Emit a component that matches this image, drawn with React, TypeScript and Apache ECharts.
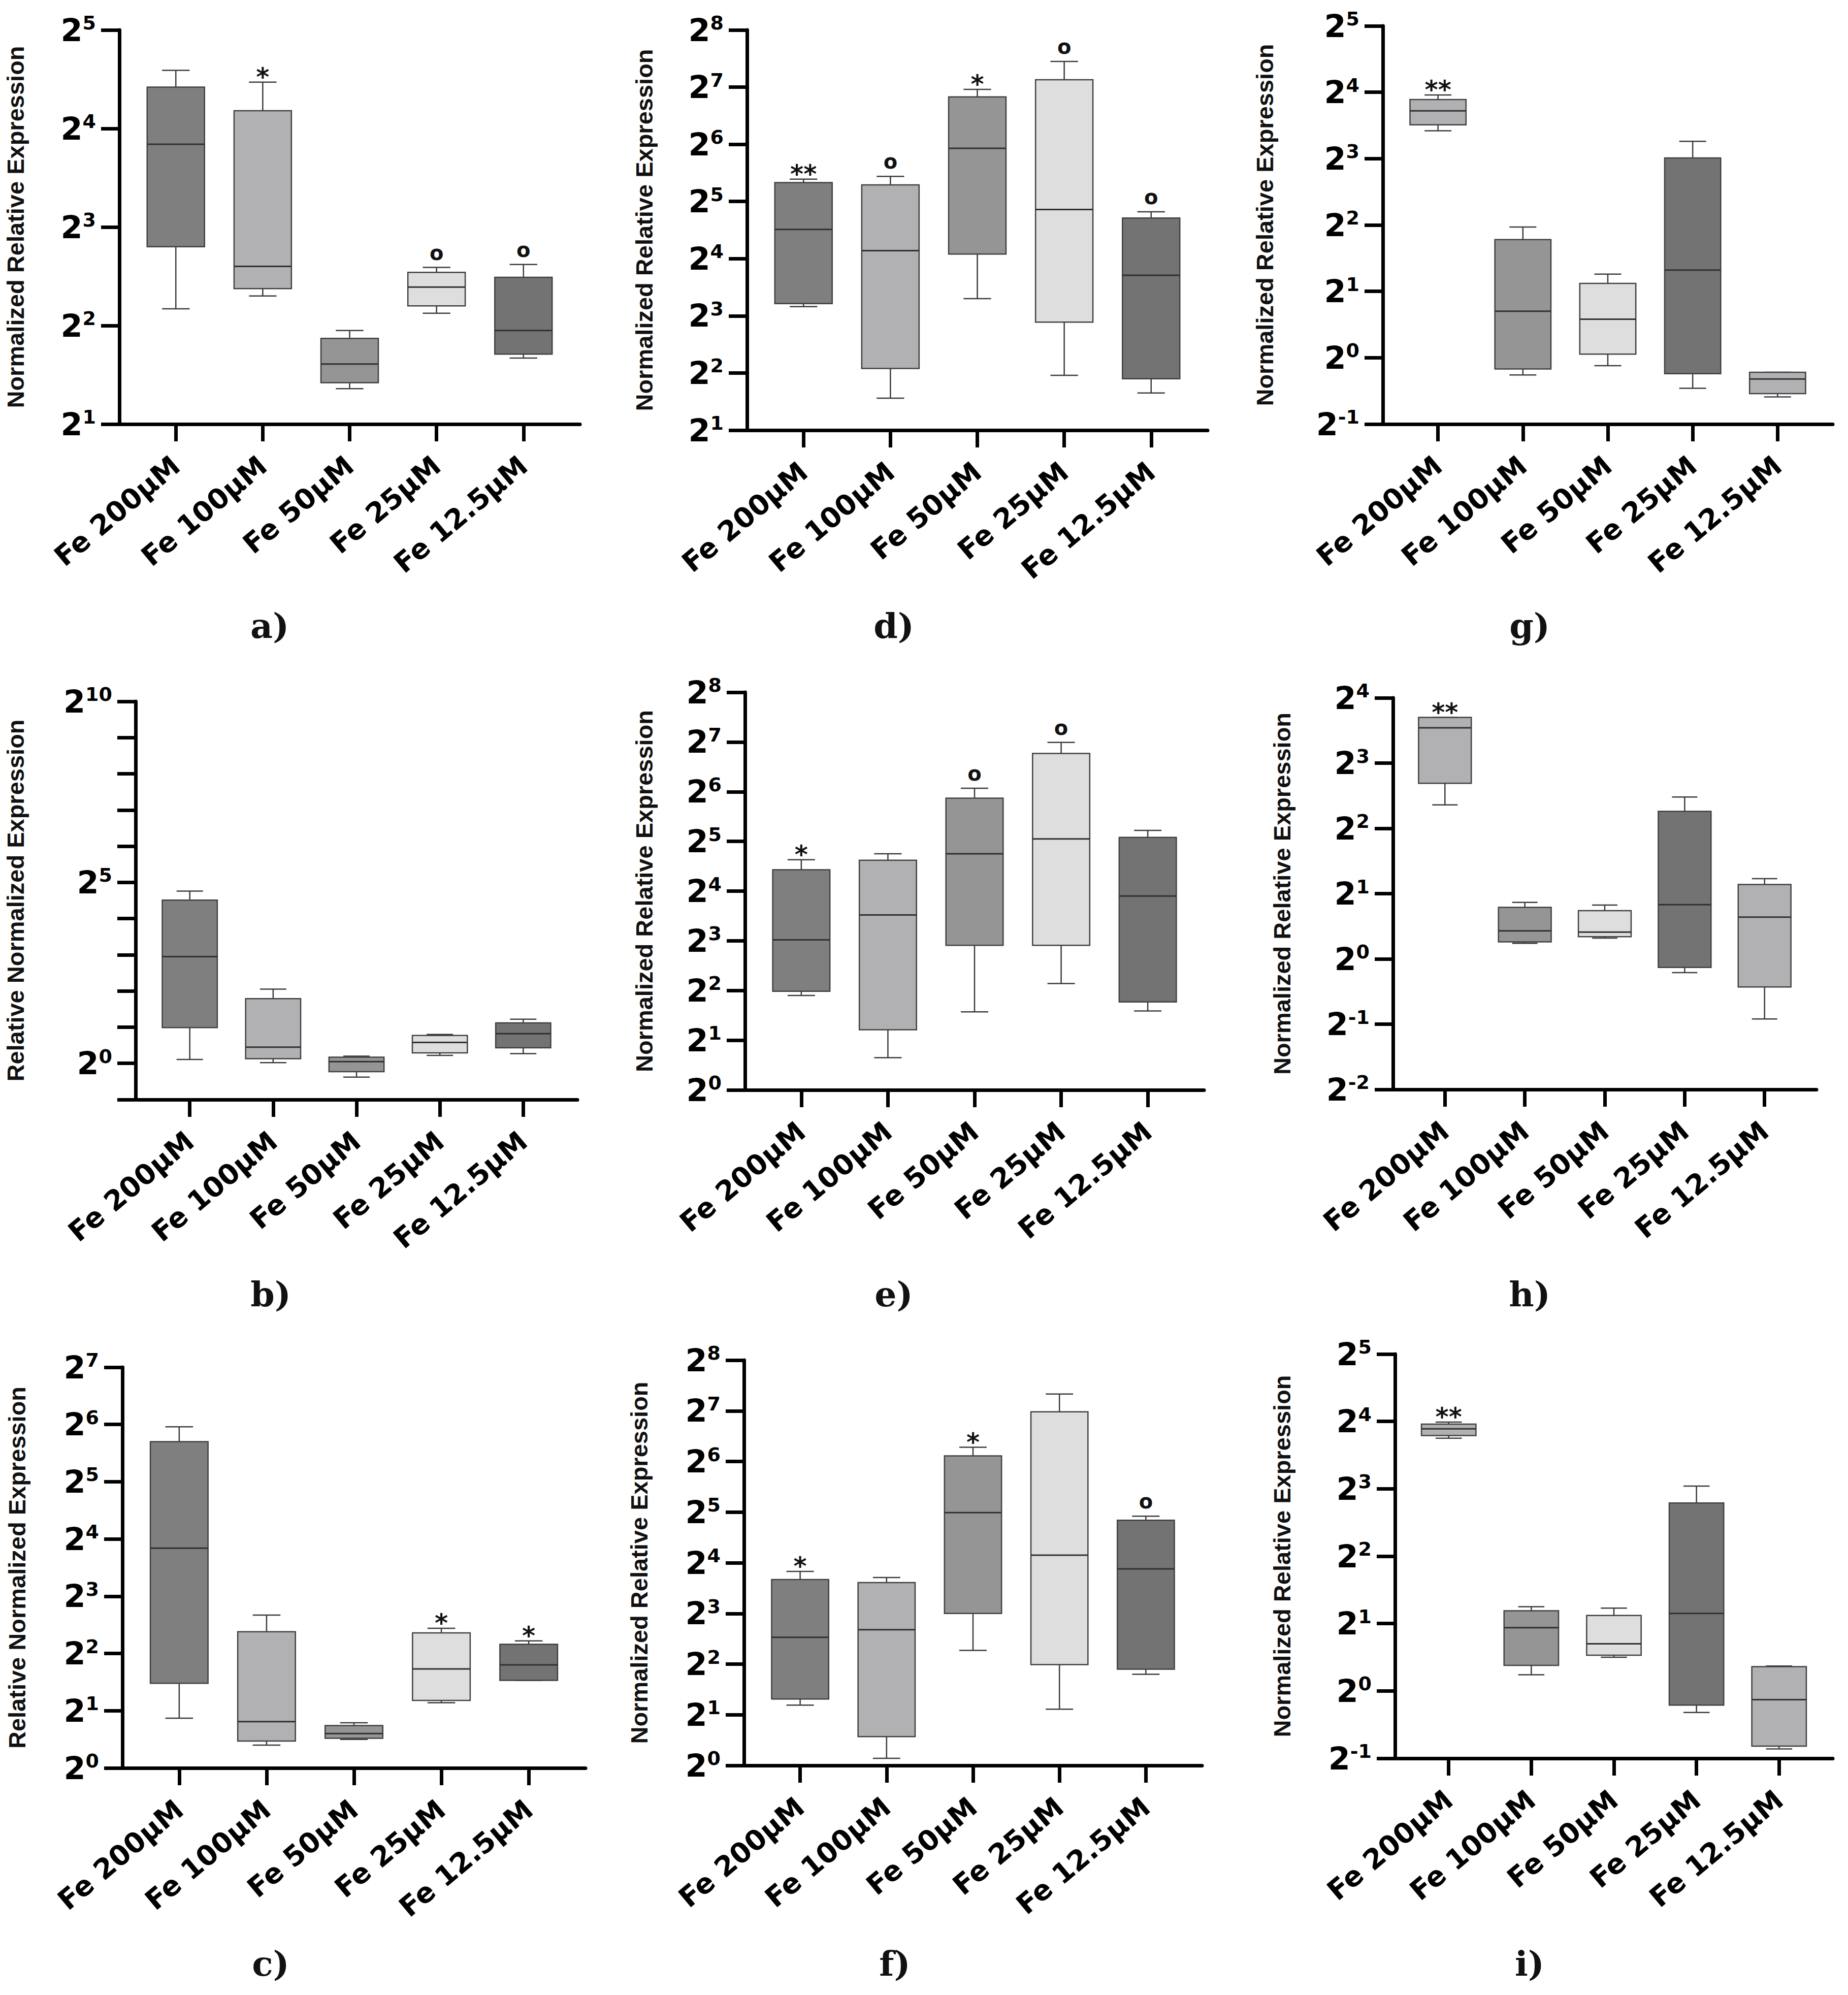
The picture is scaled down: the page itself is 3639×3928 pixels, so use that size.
import React, { useEffect, useRef } from 'react';
import * as echarts from 'echarts';

// ---------- DATA (values are log2 of expression: [min, Q1, median, Q3, max]) ----------
const categories = ['Fe 200µM', 'Fe 100µM', 'Fe 50µM', 'Fe 25µM', 'Fe 12.5µM'];

const boxesA = [
  [2.17, 2.8, 3.84, 4.42, 4.59],
  [2.3, 2.375, 2.6, 4.18, 4.47],
  [1.36, 1.42, 1.61, 1.87, 1.95],
  [2.125, 2.2, 2.39, 2.54, 2.59],
  [1.67, 1.71, 1.95, 2.49, 2.62],
];
const marksA = ['', '*', '', 'o', 'o'];

const boxesD = [
  [3.16, 3.215, 4.51, 5.33, 5.39],
  [1.56, 2.08, 4.14, 5.29, 5.44],
  [3.3, 4.08, 5.93, 6.83, 6.96],
  [1.96, 2.89, 4.86, 7.13, 7.45],
  [1.65, 1.9, 3.71, 4.71, 4.82],
];
const marksD = ['**', 'o', '*', 'o', 'o'];

const boxesG = [
  [3.42, 3.51, 3.72, 3.89, 3.96],
  [-0.26, -0.17, 0.7, 1.78, 1.97],
  [-0.12, 0.055, 0.58, 1.12, 1.26],
  [-0.46, -0.24, 1.32, 3.01, 3.26],
  [-0.59, -0.54, -0.32, -0.22, -0.22],
];
const marksG = ['**', '', '', '', ''];

const boxesB = [
  [0.11, 0.99, 2.95, 4.51, 4.76],
  [0.02, 0.13, 0.45, 1.79, 2.05],
  [-0.38, -0.23, 0.05, 0.17, 0.2],
  [0.22, 0.29, 0.58, 0.77, 0.8],
  [0.27, 0.43, 0.82, 1.12, 1.22],
];
const marksB = ['', '', '', '', ''];

const boxesE = [
  [1.9, 1.985, 3.02, 4.43, 4.63],
  [0.65, 1.21, 3.52, 4.62, 4.75],
  [1.57, 2.91, 4.75, 5.87, 6.07],
  [2.14, 2.91, 5.05, 6.77, 6.99],
  [1.59, 1.77, 3.9, 5.08, 5.22],
];
const marksE = ['*', '', 'o', 'o', ''];

const boxesH = [
  [2.36, 2.69, 3.54, 3.7, 3.7],
  [0.24, 0.26, 0.43, 0.79, 0.865],
  [0.32, 0.34, 0.41, 0.74, 0.825],
  [-0.21, -0.13, 0.83, 2.26, 2.48],
  [-0.92, -0.43, 0.64, 1.14, 1.23],
];
const marksH = ['**', '', '', '', ''];

const boxesC = [
  [0.87, 1.48, 3.84, 5.7, 5.96],
  [0.4, 0.47, 0.81, 2.38, 2.67],
  [0.5, 0.52, 0.6, 0.74, 0.79],
  [1.14, 1.18, 1.73, 2.36, 2.44],
  [1.53, 1.53, 1.8, 2.16, 2.22],
];
const marksC = ['', '', '', '*', '*'];

const boxesF = [
  [1.19, 1.31, 2.53, 3.67, 3.83],
  [0.14, 0.57, 2.68, 3.61, 3.71],
  [2.27, 3.0, 4.99, 6.11, 6.28],
  [1.11, 1.99, 4.15, 6.98, 7.33],
  [1.8, 1.9, 3.88, 4.84, 4.92],
];
const marksF = ['*', '', '*', '', 'o'];

const boxesI = [
  [3.75, 3.79, 3.89, 3.96, 3.99],
  [0.24, 0.38, 0.94, 1.19, 1.25],
  [0.5, 0.53, 0.7, 1.12, 1.23],
  [-0.32, -0.21, 1.15, 2.79, 3.04],
  [-0.86, -0.82, -0.13, 0.36, 0.37],
];
const marksI = ['**', '', '', '', ''];

const titleNRE = 'Normalized Relative Expression';
const titleRNE = 'Relative Normalized Expression';
const panelLetters = ['a)', 'd)', 'g)', 'b)', 'e)', 'h)', 'c)', 'f)', 'i)'];

// ---------- STYLES / LAYOUT ----------
const fillsDark = ['#7f7f7f', '#b1b1b4', '#959595', '#dedede', '#737373'];
const fillsLight = ['#b1b1b4', '#959595', '#dedede', '#737373', '#b1b1b4'];

const panels = [
  { boxes: boxesA, marks: marksA, yMin: 1, yMax: 5, every: 1, title: titleNRE, fills: fillsDark, left: 235, top: 59, width: 907, height: 776, gap: 181, lx: 531, ly: 1232 },
  { boxes: boxesD, marks: marksD, yMin: 1, yMax: 8, every: 1, title: titleNRE, fills: fillsDark, left: 1471, top: 59, width: 907, height: 788, gap: 179, lx: 1760, ly: 1232 },
  { boxes: boxesG, marks: marksG, yMin: -1, yMax: 5, every: 1, title: titleNRE, fills: fillsLight, left: 2723, top: 51, width: 886, height: 784, gap: 209, lx: 3012, ly: 1232 },
  { boxes: boxesB, marks: marksB, yMin: -1, yMax: 10, every: 5, title: titleRNE, fills: fillsDark, left: 267, top: 1381, width: 870, height: 784, gap: 213, lx: 533, ly: 2548 },
  { boxes: boxesE, marks: marksE, yMin: 0, yMax: 8, every: 1, title: titleNRE, fills: fillsDark, left: 1467, top: 1363, width: 904, height: 783, gap: 175, lx: 1760, ly: 2548 },
  { boxes: boxesH, marks: marksH, yMin: -2, yMax: 4, every: 1, title: titleNRE, fills: fillsLight, left: 2743, top: 1374, width: 834, height: 771, gap: 195, lx: 3012, ly: 2548 },
  { boxes: boxesC, marks: marksC, yMin: 0, yMax: 7, every: 1, title: titleRNE, fills: fillsDark, left: 241, top: 2692, width: 912, height: 789, gap: 184, lx: 533, ly: 3866 },
  { boxes: boxesF, marks: marksF, yMin: 0, yMax: 8, every: 1, title: titleNRE, fills: fillsDark, left: 1465, top: 2678, width: 902, height: 798, gap: 183, lx: 1762, ly: 3866 },
  { boxes: boxesI, marks: marksI, yMin: -1, yMax: 5, every: 1, title: titleNRE, fills: fillsLight, left: 2747, top: 2666, width: 862, height: 796, gap: 199, lx: 3012, ly: 3866 },
];

const whiskerStyle = { stroke: '#3a3a3a', lineWidth: 2.5 };

function makeRender(fills: string[], marks: string[]) {
  return (params: any, api: any) => {
    const idx = params.dataIndex;
    const xv = api.value(0);
    const pLo = api.coord([xv, api.value(1)]);
    const pQ1 = api.coord([xv, api.value(2)]);
    const pMed = api.coord([xv, api.value(3)]);
    const pQ3 = api.coord([xv, api.value(4)]);
    const pHi = api.coord([xv, api.value(5)]);
    const unit = api.size([1, 0])[0];
    const bw = unit * 0.66;
    const cw = bw * 0.48;
    const cx = pMed[0];
    const children: any[] = [
      { type: 'line', shape: { x1: cx, y1: pQ3[1], x2: cx, y2: pHi[1] }, style: whiskerStyle },
      { type: 'line', shape: { x1: cx, y1: pQ1[1], x2: cx, y2: pLo[1] }, style: whiskerStyle },
      { type: 'line', shape: { x1: cx - cw / 2, y1: pHi[1], x2: cx + cw / 2, y2: pHi[1] }, style: whiskerStyle },
      { type: 'line', shape: { x1: cx - cw / 2, y1: pLo[1], x2: cx + cw / 2, y2: pLo[1] }, style: whiskerStyle },
      {
        type: 'rect',
        shape: { x: cx - bw / 2, y: pQ3[1], width: bw, height: Math.max(pQ1[1] - pQ3[1], 1) },
        style: { fill: fills[idx], stroke: '#404040', lineWidth: 2.5 },
      },
      { type: 'line', shape: { x1: cx - bw / 2, y1: pMed[1], x2: cx + bw / 2, y2: pMed[1] }, style: { stroke: '#303030', lineWidth: 3 } },
    ];
    const m = marks[idx];
    if (m) {
      const isO = m === 'o';
      children.push({
        type: 'text',
        style: {
          text: m,
          x: cx,
          y: pHi[1] - (isO ? 29 : 10),
          align: 'center',
          verticalAlign: 'middle',
          fontFamily: 'DejaVu Sans',
          fontWeight: 'bold',
          fontSize: isO ? 40 : 50,
          fill: '#111',
        },
      });
    }
    return { type: 'group', children };
  };
}

function buildOption() {
  const grid: any[] = [];
  const xAxis: any[] = [];
  const yAxis: any[] = [];
  const series: any[] = [];
  const graphic: any[] = [];
  panels.forEach((p, k) => {
    grid.push({ left: p.left, top: p.top, width: p.width, height: p.height, containLabel: false });
    xAxis.push({
      type: 'value',
      gridIndex: k,
      min: -0.65,
      max: 4.65,
      axisLine: { show: true, onZero: false, lineStyle: { color: '#000', width: 7 } },
      axisTick: { show: true, length: 34, lineStyle: { color: '#000', width: 7 }, customValues: [0, 1, 2, 3, 4] },
      axisLabel: {
        customValues: [0, 1, 2, 3, 4],
        formatter: (v: number) => categories[Math.round(v)] ?? '',
        rotate: 40,
        margin: 74,
        fontFamily: 'DejaVu Sans',
        fontWeight: 'bold',
        fontSize: 55,
        color: '#000',
      },
      splitLine: { show: false },
    });
    const every = p.every;
    yAxis.push({
      type: 'value',
      gridIndex: k,
      min: p.yMin,
      max: p.yMax,
      interval: 1,
      axisLine: { show: true, onZero: false, lineStyle: { color: '#000', width: 7 } },
      axisTick: { show: true, length: 36, lineStyle: { color: '#000', width: 7 } },
      axisLabel: {
        margin: 46,
        formatter: (v: number) => {
          const n = Math.round(v);
          return n % every === 0 ? `{b|2}{s|${n}}` : '';
        },
        rich: {
          b: { fontFamily: 'DejaVu Sans', fontWeight: 'bold', fontSize: 62, lineHeight: 66, color: '#000' },
          s: { fontFamily: 'DejaVu Sans', fontWeight: 'bold', fontSize: 38, lineHeight: 38, verticalAlign: 'top', color: '#000' },
        },
      },
      splitLine: { show: false },
      name: p.title,
      nameLocation: 'middle',
      nameRotate: 90,
      nameGap: p.gap,
      nameTextStyle: { fontFamily: 'Liberation Sans', fontWeight: 'bold', fontSize: 47, color: '#111' },
    });
    series.push({
      type: 'custom',
      xAxisIndex: k,
      yAxisIndex: k,
      renderItem: makeRender(p.fills, p.marks),
      encode: { x: 0, y: [1, 2, 3, 4, 5] },
      data: p.boxes.map((b, i) => [i, ...b]),
      clip: false,
    });
    graphic.push({
      type: 'text',
      x: p.lx,
      y: p.ly,
      style: {
        text: panelLetters[k],
        align: 'center',
        verticalAlign: 'middle',
        fontFamily: 'DejaVu Serif',
        fontWeight: 'bold',
        fontSize: 68,
        fill: '#111',
      },
    });
  });
  return {
    animation: false,
    backgroundColor: '#fff',
    grid,
    xAxis,
    yAxis,
    series,
    graphic,
  };
}

export default function App() {
  const ref = useRef<HTMLDivElement>(null);
  useEffect(() => {
    if (!ref.current) return;
    const chart = echarts.init(ref.current, null, { renderer: 'svg' });
    chart.setOption(buildOption() as any);
    return () => chart.dispose();
  }, []);
  return (
    <div
      ref={ref}
      style={{ position: 'absolute', left: 0, top: 0, width: 3639, height: 3928, background: '#fff' }}
    />
  );
}
